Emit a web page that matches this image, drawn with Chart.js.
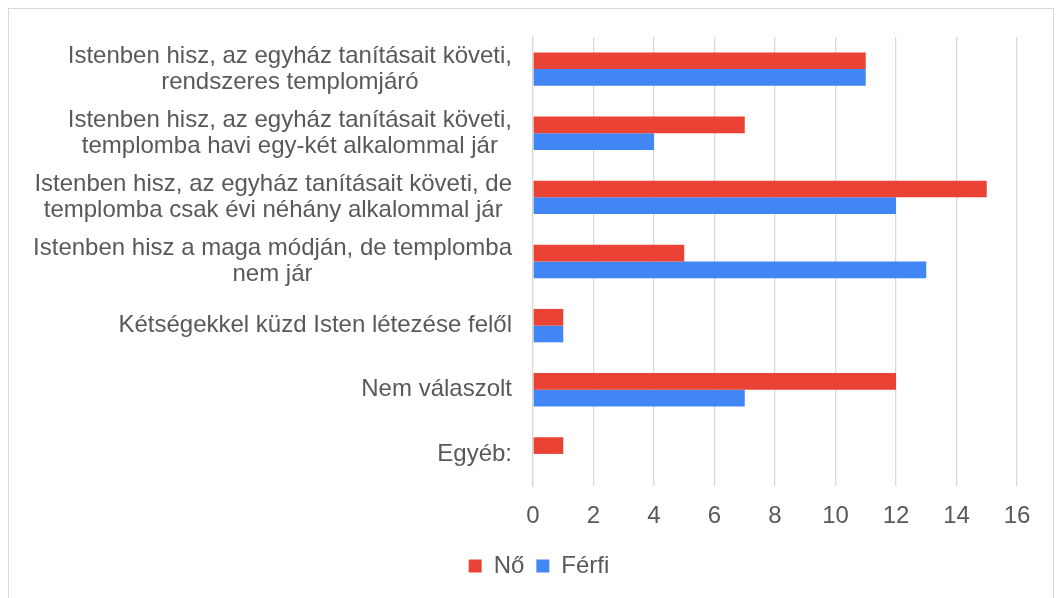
<!DOCTYPE html>
<html>
<head>
<meta charset="utf-8">
<script src="https://cdn.jsdelivr.net/npm/chart.js@4"></script>
<style>
  body { margin: 0; background: #fff; }
  #keret { position: absolute; left: 8px; top: 8px; width: 1044px; height: 620px; border: 1px solid #d9d9d9; }
  #grafiek { position: absolute; left: 0; top: 0; }
</style>
</head>
<body>
<div id="keret"></div>
<canvas id="grafiek" width="1057" height="598"></canvas>
<script>
// kategóriák (többsoros címkék)
const kategoriak = [
    ['Istenben hisz, az egyház tanításait követi,', 'rendszeres templomjáró'],
    ['Istenben hisz, az egyház tanításait követi,', 'templomba havi egy-két alkalommal jár'],
    ['Istenben hisz, az egyház tanításait követi, de', 'templomba csak évi néhány alkalommal jár'],
    ['Istenben hisz a maga módján, de templomba', 'nem jár'],
    ['Kétségekkel küzd Isten létezése felől'],
    ['Nem válaszolt'],
    ['Egyéb:']
];
const noErtekek = [11, 7, 15, 5, 1, 12, 1];
const ferfiErtekek = [11, 4, 12, 13, 1, 7, 0];
const xTickek = [0, 2, 4, 6, 8, 10, 12, 14, 16];

const betu = 'Liberation Sans, Arial, sans-serif';
const szurke = '#595959';
const meret = 24;

// címkék: blokk jobbra igazítva, sorok középre
const cimkePlugin = {
    id: 'cimkek',
    afterDraw(chart) {
        const ctx = chart.ctx;
        const y = chart.scales.y;
        ctx.save();
        ctx.font = meret + 'px ' + betu;
        ctx.fillStyle = szurke;
        ctx.textAlign = 'center';
        ctx.textBaseline = 'middle';
        const jobb = y.right - 21;
        kategoriak.forEach((sorok, i) => {
            const szeles = Math.max(...sorok.map(s => ctx.measureText(s).width));
            const kozep = jobb - szeles / 2;
            const yk = y.getPixelForTick(i);
            const elso = yk - (sorok.length - 1) * 13;
            sorok.forEach((s, j) => ctx.fillText(s, kozep, elso + j * 26));
        });
        ctx.restore();
    }
};

new Chart(document.getElementById('grafiek').getContext('2d'), {
    type: 'bar',
    data: {
        labels: kategoriak,
        datasets: [
            { label: 'Nő', data: noErtekek, backgroundColor: '#EA4335' },
            { label: 'Férfi', data: ferfiErtekek, backgroundColor: '#4285F4' }
        ]
    },
    options: {
        indexAxis: 'y',
        responsive: false,
        animation: false,
        categoryPercentage: 0.52,
        barPercentage: 1,
        layout: { padding: { top: 37, left: 61, right: 40, bottom: 10 } },
        scales: {
            x: {
                min: 0,
                max: 16,
                afterBuildTicks: s => { s.ticks = xTickek.map(v => ({ value: v })); },
                grid: { color: '#d9d9d9', lineWidth: 1.3, drawTicks: false },
                border: { display: false },
                ticks: { color: szurke, font: { family: betu, size: meret }, padding: 16 },
                afterFit: s => { s.height = 56; }
            },
            y: {
                grid: { display: false },
                border: { color: '#d9d9d9', width: 1.3 },
                ticks: { color: 'transparent', font: { family: betu, size: meret } },
                afterFit: s => { s.width = 472; }
            }
        },
        plugins: {
            legend: {
                position: 'bottom',
                labels: {
                    color: szurke,
                    font: { family: betu, size: meret },
                    usePointStyle: true,
                    pointStyle: 'rect',
                    boxWidth: 13,
                    boxHeight: 13,
                    padding: 12
                }
            },
            tooltip: { enabled: false }
        }
    },
    plugins: [cimkePlugin]
});
</script>
</body>
</html>
